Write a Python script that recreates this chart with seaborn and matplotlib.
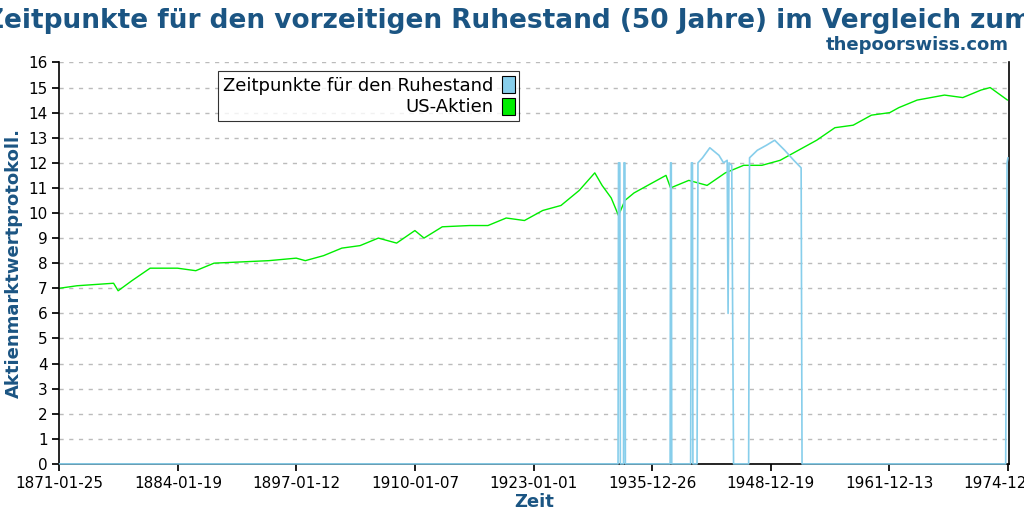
import matplotlib
matplotlib.use("Agg")
import matplotlib.pyplot as plt
import matplotlib.patches as mpatches
import seaborn as sns
import pandas as pd
import numpy as np

# Green: log stock market (US-Aktien)
stock_years = [1871.07, 1873, 1875, 1877, 1877.5, 1879, 1881, 1884, 1886, 1888, 1891, 1894, 1897, 1898, 1900,
               1902, 1904, 1906, 1908, 1910, 1911, 1913, 1916, 1918, 1920, 1922, 1924, 1926, 1928, 1929.7,
               1930.5, 1931.5, 1932.3, 1933, 1934, 1936, 1937.5, 1938, 1940, 1942, 1944, 1946, 1948, 1950,
               1952, 1954, 1956, 1958, 1960, 1962, 1963, 1965, 1968, 1970, 1972, 1973, 1974.9]
stock_vals = [7.0, 7.1, 7.15, 7.2, 6.9, 7.3, 7.8, 7.8, 7.7, 8.0, 8.05, 8.1, 8.2, 8.1, 8.3,
              8.6, 8.7, 9.0, 8.8, 9.3, 9.0, 9.45, 9.5, 9.5, 9.8, 9.7, 10.1, 10.3, 10.9, 11.6,
              11.1, 10.6, 9.9, 10.5, 10.8, 11.2, 11.5, 11.0, 11.3, 11.1, 11.6, 11.9, 11.9, 12.1,
              12.5, 12.9, 13.4, 13.5, 13.9, 14.0, 14.2, 14.5, 14.7, 14.6, 14.9, 15.0, 14.5]

# Blue: retirement points (Zeitpunkte für den Ruhestand)
ret_years = [1871.07, 1932.25, 1932.3, 1932.45, 1932.5, 1932.85, 1932.9, 1933.0, 1933.05,
             1937.95, 1938.0, 1938.08, 1938.13, 1940.2, 1940.28, 1940.4, 1940.45, 1940.9, 1941.0,
             1941.5, 1942.3, 1943.3, 1943.8, 1944.2, 1944.3, 1944.4, 1944.7, 1944.8, 1944.9,
             1946.55, 1946.65, 1947.5, 1948.5, 1949.4, 1950.5, 1951.5, 1952.3, 1952.35, 1952.4,
             1974.7, 1974.78, 1974.85, 1974.95]
ret_vals = [0, 0, 12, 12, 0, 0, 12, 12, 0,
            0, 12, 12, 0, 0, 12, 12, 0, 0, 12,
            12.2, 12.6, 12.3, 12.0, 12.1, 6, 12, 11.9, 6, 0,
            0, 12.2, 12.5, 12.7, 12.9, 12.5, 12.1, 11.8, 6, 0,
            0, 6, 12, 12.2]

xtick_labels = ["1871-01-25", "1884-01-19", "1897-01-12", "1910-01-07", "1923-01-01",
                "1935-12-26", "1948-12-19", "1961-12-13", "1974-12-08"]

def to_dt(y):
    yr = int(np.floor(y))
    return pd.Timestamp(f"{yr}-01-01") + pd.Timedelta(days=(y - yr) * 365.25)

stock = pd.DataFrame({"date": [to_dt(y) for y in stock_years], "val": stock_vals})
ret = pd.DataFrame({"date": [to_dt(y) for y in ret_years], "val": ret_vals})

sns.set_theme(style="white")
plt.rcParams['font.family'] = ['DejaVu Sans']
fig, ax = plt.subplots(figsize=(10.24, 5.12), dpi=100)
fig.subplots_adjust(left=0.058, right=0.985, top=0.878, bottom=0.094)

sns.lineplot(data=stock, x="date", y="val", ax=ax, color="#00ee00", lw=1, sort=False)
sns.lineplot(data=ret, x="date", y="val", ax=ax, color="#87ceeb", lw=1.2, sort=False,
             clip_on=False, zorder=5)

ax.set_ylim(0, 16)
ax.set_yticks(range(0, 17))
ax.set_xlim(pd.Timestamp("1871-01-25"), pd.Timestamp("1975-01-10"))
ticks = [pd.Timestamp(t) for t in xtick_labels]
ax.set_xticks(ticks)
ax.set_xticklabels(xtick_labels)
ax.tick_params(axis="both", labelsize=11, colors="black", length=5, direction="out", bottom=True, left=True)
ax.yaxis.grid(True, linestyle=(0, (3, 4)), color="#bbbbbb", lw=1)
ax.spines["top"].set_visible(False)
for s in ["left", "bottom", "right"]:
    ax.spines[s].set_color("black")
    ax.spines[s].set_linewidth(1.2)
ax.set_xlabel("Zeit", fontsize=13, fontweight="bold", color="#1b5583", labelpad=2)
ax.set_ylabel("Aktienmarktwertprotokoll.", fontsize=13, fontweight="bold", color="#1b5583")

handles = [mpatches.Patch(facecolor="#87ceeb", edgecolor="black", lw=0.8),
           mpatches.Patch(facecolor="#00ee00", edgecolor="black", lw=0.8)]
leg = ax.legend(handles, ["Zeitpunkte für den Ruhestand", "US-Aktien"], loc="upper left",
                bbox_to_anchor=(0.158, 1.0), markerfirst=False, fontsize=13, frameon=True,
                fancybox=False, edgecolor="black", handlelength=0.7, handleheight=1.1,
                borderpad=0.25, labelspacing=0.15, handletextpad=0.5)
leg.get_frame().set_linewidth(0.8)
for t in leg.get_texts():
    t.set_color("black")

fig.text(-0.015, 0.985, "Zeitpunkte für den vorzeitigen Ruhestand (50 Jahre) im Vergleich zum US-Aktienmarkt",
         ha="left", va="top", fontsize=19, fontweight="bold", color="#1b5583")
fig.text(0.985, 0.895, "thepoorswiss.com", ha="right", va="bottom", fontsize=13,
         fontweight="bold", color="#1b5583")

fig.savefig("out.png", dpi=100)
